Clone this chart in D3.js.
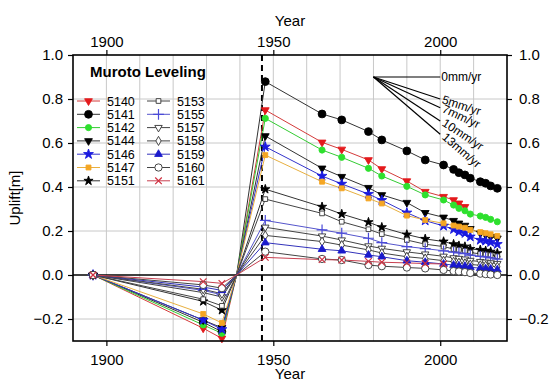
<!DOCTYPE html>
<html>
<head>
<meta charset="utf-8">
<script src="https://cdn.jsdelivr.net/npm/d3@7"></script>
<style>
  body { margin: 0; background: #fff; }
  text { font-family: "Liberation Sans", Arial, Helvetica, sans-serif; fill: #000; }
</style>
</head>
<body>
<svg id="chart" width="549" height="383"></svg>
<script>
// survey epochs (year) shared by all benchmarks
const epochs = [1896, 1929, 1934.6, 1939, 1947.6, 1964.6, 1970.5, 1978.5, 1982.5, 1990,
                1995.5, 2001, 2004, 2005.6, 2007.4, 2009, 2012, 2013.6, 2015.1, 2017.1];
const datumYear = 1939;
const quakeYear = 1946.6;

// uplift [m] per benchmark, null = not surveyed
const s5140 = [0, -0.242, -0.288, 0, 0.750, 0.603, 0.571, 0.523, 0.482, 0.427, 0.379, 0.356, 0.341, 0.326, 0.310, null, null, null, null, null];
const s5141 = [0, -0.215, -0.258, 0, 0.879, 0.732, 0.705, 0.652, 0.614, 0.564, 0.523, 0.500, 0.480, 0.465, 0.455, 0.440, 0.424, 0.417, 0.405, 0.394];
const s5142 = [0, -0.227, -0.265, 0, 0.712, 0.568, 0.535, 0.485, 0.450, 0.403, 0.364, 0.341, 0.318, 0.303, 0.292, 0.277, 0.268, 0.262, 0.253, 0.242];
const s5144 = [0, -0.205, -0.240, 0, 0.632, 0.485, 0.447, 0.397, 0.364, 0.329, 0.283, 0.262, 0.247, 0.235, 0.225, 0.210, 0.190, 0.182, 0.174, 0.167];
const s5146 = [0, -0.205, -0.247, 0, 0.583, 0.450, 0.414, 0.368, 0.340, 0.283, 0.247, 0.223, 0.208, 0.197, 0.190, 0.174, 0.159, 0.155, 0.149, 0.140];
const s5147 = [0, -0.177, -0.218, 0, 0.545, 0.424, 0.394, 0.348, 0.325, 0.270, 0.250, 0.235, 0.225, 0.220, 0.215, 0.205, 0.195, 0.190, 0.185, 0.178];
const s5151 = [0, -0.120, -0.160, 0, 0.390, 0.310, 0.277, 0.240, 0.217, 0.184, 0.164, 0.152, 0.140, 0.133, 0.129, 0.118, 0.114, 0.110, 0.106, 0.099];
const s5153 = [0, -0.110, -0.140, 0, 0.345, 0.280, 0.242, 0.208, 0.186, 0.159, 0.140, 0.129, 0.118, 0.114, 0.110, 0.102, 0.096, 0.093, 0.090, 0.085];
const s5155 = [0, -0.070, -0.090, 0, 0.248, 0.205, 0.190, 0.167, 0.147, 0.129, 0.120, 0.110, 0.104, 0.100, 0.097, 0.090, 0.085, 0.082, 0.078, 0.072];
const s5157 = [0, -0.080, -0.100, 0, 0.217, 0.177, 0.159, 0.132, 0.121, 0.105, 0.095, 0.085, 0.078, 0.075, 0.072, 0.066, 0.061, 0.058, 0.055, 0.052];
const s5158 = [0, -0.065, -0.085, 0, 0.180, 0.152, 0.136, 0.114, 0.100, 0.083, 0.075, 0.065, 0.060, 0.056, 0.053, 0.048, 0.044, 0.042, 0.040, 0.037];
const s5159 = [0, -0.055, -0.070, 0, 0.147, 0.117, 0.110, 0.091, 0.083, 0.065, 0.058, 0.050, 0.045, 0.042, 0.040, 0.035, 0.031, 0.029, 0.027, 0.024];
const s5160 = [0, -0.045, -0.060, 0, 0.106, 0.073, 0.068, 0.045, 0.040, 0.034, 0.030, 0.023, 0.018, 0.016, 0.013, 0.009, 0.006, 0.004, 0.002, 0.000];
const s5161 = [0, -0.030, -0.038, 0, 0.080, 0.070, 0.068, 0.062, 0.058, 0.055, 0.052, 0.050, null, null, null, null, null, null, null, null];

const stations = ["5140", "5141", "5142", "5144", "5146", "5147", "5151",
                  "5153", "5155", "5157", "5158", "5159", "5160", "5161"];
const seriesValues = [s5140, s5141, s5142, s5144, s5146, s5147, s5151,
                      s5153, s5155, s5157, s5158, s5159, s5160, s5161];

const xTicks = [1900, 1950, 2000];
const yTicks = [-0.2, 0.0, 0.2, 0.4, 0.6, 0.8, 1.0];
const rates = [0, 5, 7, 10, 13];          // mm/yr reference slopes
const title = "Muroto Leveling";

// marker styles per station
const styles = {
  "5140": {sym: d3.symbolTriangle, flip: true,  size: 26, fill: "#e41a1c", stroke: "#e41a1c", line: "#d43a3a"},
  "5141": {sym: d3.symbolCircle,   flip: false, size: 48, fill: "#000",    stroke: "#000",    line: "#333"},
  "5142": {sym: d3.symbolCircle,   flip: false, size: 30, fill: "#2ee02e", stroke: "#2ee02e", line: "#33cc33"},
  "5144": {sym: d3.symbolTriangle, flip: true,  size: 26, fill: "#000",    stroke: "#000",    line: "#333"},
  "5146": {sym: d3.symbolStar,     flip: false, size: 30, fill: "#1a1ae0", stroke: "#1a1ae0", line: "#3333cc"},
  "5147": {sym: d3.symbolSquare,   flip: false, size: 24, fill: "#f5a623", stroke: "#f5a623", line: "#e8b040"},
  "5151": {sym: d3.symbolStar,     flip: false, size: 26, fill: "#000",    stroke: "#000",    line: "#333"},
  "5153": {sym: d3.symbolSquare,   flip: false, size: 22, fill: "#fff",    stroke: "#333",    line: "#444"},
  "5155": {sym: d3.symbolPlus,     flip: false, size: 40, fill: "none",    stroke: "#4a4ad8", line: "#5555cc", thin: true},
  "5157": {sym: d3.symbolTriangle, flip: true,  size: 24, fill: "#fff",    stroke: "#333",    line: "#444"},
  "5158": {sym: d3.symbolDiamond,  flip: false, size: 24, fill: "#fff",    stroke: "#333",    line: "#444"},
  "5159": {sym: d3.symbolTriangle, flip: false, size: 26, fill: "#1a1acc", stroke: "#1a1acc", line: "#3333bb"},
  "5160": {sym: d3.symbolCircle,   flip: false, size: 42, fill: "#fff",    stroke: "#333",    line: "#444"},
  "5161": {sym: d3.symbolTimes,    flip: false, size: 30, fill: "none",    stroke: "#d03040", line: "#c84050", thin: true}
};

const svg = d3.select("#chart");
const x = d3.scaleLinear().domain([1890, 2020]).range([73, 507]);
const y = d3.scaleLinear().domain([-0.3, 1.0]).range([341, 55]);
const [x0, x1] = x.range();
const [y0, y1] = y.range();

// grid
const grid = svg.append("g").attr("class", "grid");
grid.selectAll("line.v").data(d3.range(1900, 2020, 10)).enter().append("line")
  .attr("x1", d => x(d)).attr("x2", d => x(d))
  .attr("y1", y1).attr("y2", y0)
  .attr("stroke", "#c8c8c8").attr("stroke-width", 1);
grid.selectAll("line.h").data(yTicks.filter(d => d !== 0 && d !== 1)).enter().append("line")
  .attr("x1", x0).attr("x2", x1)
  .attr("y1", d => y(d)).attr("y2", d => y(d))
  .attr("stroke", "#c8c8c8").attr("stroke-width", 1);

// zero line and earthquake marker
svg.append("line")
  .attr("x1", x0).attr("x2", x1).attr("y1", y(0)).attr("y2", y(0))
  .attr("stroke", "#000").attr("stroke-width", 1.5);
svg.append("line")
  .attr("x1", x(quakeYear)).attr("x2", x(quakeYear)).attr("y1", y1).attr("y2", y0)
  .attr("stroke", "#000").attr("stroke-width", 2).attr("stroke-dasharray", "6,4");

// slope reference lines
const anchorYear = 1980, anchorVal = 0.9, spanYears = 20;
const ref = svg.append("g").attr("class", "rates");
rates.forEach(r => {
  const ex = x(anchorYear + spanYears), ey = y(anchorVal - r * spanYears / 1000);
  ref.append("line")
    .attr("x1", x(anchorYear)).attr("y1", y(anchorVal))
    .attr("x2", ex).attr("y2", ey)
    .attr("stroke", "#000").attr("stroke-width", 1.2);
  const ang = Math.atan2(ey - y(anchorVal), ex - x(anchorYear)) * 180 / Math.PI;
  ref.append("text")
    .attr("transform", "translate(" + (ex + 1) + "," + (ey + 4) + ") rotate(" + ang + ")")
    .style("font-size", "12px")
    .text(r + "mm/yr");
});

// series
const rows = stations.map((name, i) => ({
  name: name,
  style: styles[name],
  points: epochs.map((t, j) => ({t: t, v: seriesValues[i][j]})).filter(p => p.v !== null)
}));

const line = d3.line().x(d => x(d.t)).y(d => y(d.v));

function symbolPath(st) {
  return d3.symbol().type(st.sym).size(st.size)();
}

function drawMarker(sel, st) {
  sel.append("path")
    .attr("d", symbolPath(st))
    .attr("transform", d => "translate(" + d[0] + "," + d[1] + ")" + (st.flip ? " rotate(180)" : ""))
    .attr("fill", st.fill)
    .attr("stroke", st.stroke)
    .attr("stroke-width", st.thin ? 1.2 : 0.9);
}

const plot = svg.append("g").attr("class", "series");
rows.forEach(r => {
  plot.append("path")
    .datum(r.points)
    .attr("d", line)
    .attr("fill", "none")
    .attr("stroke", r.style.line)
    .attr("stroke-width", 1);
});
rows.forEach(r => {
  const g = plot.append("g").selectAll("g")
    .data(r.points.filter(p => p.t !== datumYear).map(p => [x(p.t), y(p.v)]))
    .enter();
  drawMarker(g, r.style);
});

// frame
svg.append("rect")
  .attr("x", x0).attr("y", y1).attr("width", x1 - x0).attr("height", y0 - y1)
  .attr("fill", "none").attr("stroke", "#000").attr("stroke-width", 1.6);

// axes
function styleAxis(g) {
  g.select(".domain").remove();
  g.selectAll(".tick line").attr("stroke", "#000").attr("stroke-width", 1.2);
  g.selectAll(".tick text").style("font-size", "15px").attr("fill", "#000");
}
svg.append("g").attr("transform", "translate(0," + y0 + ")")
  .call(d3.axisBottom(x).tickValues(xTicks).tickFormat(d3.format("d")).tickSize(5).tickPadding(8))
  .call(styleAxis);
svg.append("g").attr("transform", "translate(0," + y1 + ")")
  .call(d3.axisTop(x).tickValues(xTicks).tickFormat(d3.format("d")).tickSize(5).tickPadding(3))
  .call(styleAxis);
svg.append("g").attr("transform", "translate(" + x0 + ",0)")
  .call(d3.axisLeft(y).tickValues(yTicks).tickFormat(d3.format(".1f")).tickSize(5).tickPadding(5))
  .call(styleAxis);
svg.append("g").attr("transform", "translate(" + x1 + ",0)")
  .call(d3.axisRight(y).tickValues(yTicks).tickFormat(d3.format(".1f")).tickSize(5).tickPadding(7))
  .call(styleAxis);

// axis titles
svg.append("text").attr("x", (x0 + x1) / 2).attr("y", 26)
  .style("text-anchor", "middle").style("font-size", "15px").text("Year");
svg.append("text").attr("x", (x0 + x1) / 2).attr("y", 379)
  .style("text-anchor", "middle").style("font-size", "15px").text("Year");
svg.append("text")
  .attr("transform", "translate(20," + ((y0 + y1) / 2) + ") rotate(-90)")
  .style("text-anchor", "middle").style("font-size", "15px").text("Uplift[m]");

// title + legend
svg.append("text").attr("x", 90).attr("y", 77)
  .style("font-size", "15px").style("font-weight", "bold").text(title);

const legend = svg.append("g").attr("class", "legend");
rows.forEach((r, i) => {
  const col = Math.floor(i / 7), row = i % 7;
  const lx = col === 0 ? 77 : 147;
  const ly = 101 + row * 13.3;
  legend.append("line")
    .attr("x1", lx).attr("x2", lx + 23).attr("y1", ly).attr("y2", ly)
    .attr("stroke", r.style.line).attr("stroke-width", 1);
  const g = legend.append("g").selectAll("g").data([[lx + 11.5, ly]]).enter();
  drawMarker(g, r.style);
  legend.append("text")
    .attr("x", lx + 30).attr("y", ly).attr("dy", "0.36em")
    .style("font-size", "12.5px").text(r.name);
});
</script>
</body>
</html>
